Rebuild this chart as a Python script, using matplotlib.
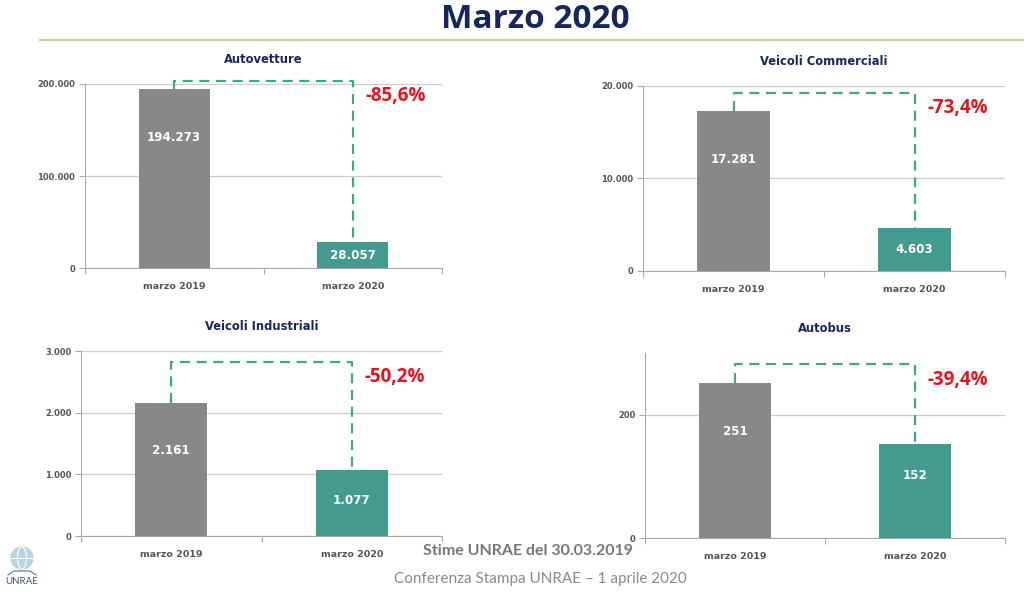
import matplotlib.pyplot as plt
from matplotlib.patches import Circle, Ellipse
from matplotlib.ticker import FuncFormatter

plt.rcParams['font.family'] = ['DejaVu Sans']

categories = ['marzo 2019', 'marzo 2020']
titles = ['Autovetture', 'Veicoli Commerciali', 'Veicoli Industriali', 'Autobus']
val_2019 = [194273, 17281, 2161, 251]
val_2020 = [28057, 4603, 1077, 152]
variazioni = ['-85,6%', '-73,4%', '-50,2%', '-39,4%']
y_max = [200000, 20000, 3000, 300]
y_step = [100000, 10000, 1000, 200]
bracket_top = [203500, 19250, 2825, 282]

GRAY = '#888888'
TEAL = '#429b8e'
DASH = '#3aa98a'
RED = '#e3141a'
NAVY = '#14275e'
TICK = '#555555'
OPEN = ['Open Sans', 'DejaVu Sans']
LATO = ['Lato', 'DejaVu Sans']

def fmt_it(v, pos=None):
    return f'{int(v):,}'.replace(',', '.')

fig = plt.figure(figsize=(10.24, 5.95), dpi=100)
W, H = 1024, 595
boxes = [(85, 84, 442, 268), (643, 86, 1005, 271), (81, 351, 442, 536), (645, 353, 1005, 538)]

for i, (x0, y0, x1, y1) in enumerate(boxes):
    ax = fig.add_axes([x0 / W, 1 - y1 / H, (x1 - x0) / W, (y1 - y0) / H])
    xs = [0, 1]
    vals = [val_2019[i], val_2020[i]]
    ax.bar(xs, vals, width=0.4, color=[GRAY, TEAL], zorder=3)
    ax.set_xlim(-0.5, 1.5)
    ax.set_ylim(0, y_max[i])
    ticks = list(range(0, y_max[i] + 1, y_step[i]))
    ax.set_yticks(ticks)
    ax.yaxis.set_major_formatter(FuncFormatter(fmt_it))
    ax.set_xticks([-0.5, 0.5, 1.5])
    ax.set_xticklabels([])
    ax.set_xticks(xs, minor=True)
    ax.set_xticklabels(categories, minor=True)
    ax.tick_params(axis='x', which='major', length=4, color='#aaaaaa', direction='out')
    ax.tick_params(axis='x', which='minor', length=0, pad=10, labelsize=6.8, labelcolor=TICK)
    ax.tick_params(axis='y', length=4, color='#aaaaaa', labelsize=6, labelcolor=TICK, pad=3)
    for lab in ax.get_xticklabels(minor=True) + ax.get_yticklabels():
        lab.set_fontweight('bold')
    ax.grid(axis='y', color='#cccccc', lw=0.9, zorder=0)
    for s in ['top', 'right']:
        ax.spines[s].set_visible(False)
    ax.spines['left'].set_color('#aaaaaa')
    ax.spines['bottom'].set_color('#aaaaaa')
    ax.set_title(titles[i], fontsize=8.3, fontweight='bold', color=NAVY, pad=15)

    # bracket
    ax.plot([0, 0, 1, 1], [vals[0], bracket_top[i], bracket_top[i], vals[1]],
            ls=(0, (4.5, 3)), color=DASH, lw=1.6, clip_on=False, zorder=4)
    ax.text(1.07, bracket_top[i] - y_max[i] * 0.03, variazioni[i], color=RED,
            fontsize=13.5, fontweight='bold', ha='left', va='top', family=OPEN)

    # value labels
    px_per_unit = (y1 - y0) / y_max[i]
    for x, v, cap in zip(xs, vals, [48, 31]):
        off = min(v * px_per_unit / 2, cap)
        ax.annotate(fmt_it(v), (x, v), xytext=(0, -off), textcoords='offset pixels',
                    ha='center', va='center', color='white', fontsize=8.6,
                    fontweight='bold', zorder=5)

# header
fig.text(535 / W, 1 - 20 / H, 'Marzo 2020', ha='center', va='center',
         fontsize=24, fontweight='bold', color=NAVY, family=OPEN)
fig.add_artist(plt.Line2D([40 / W, 1], [1 - 40 / H, 1 - 40 / H], color='#c8d39c', lw=1.5))

# footer
fig.text(528 / W, 1 - 551 / H, 'Stime UNRAE del 30.03.2019', ha='center', va='center',
         fontsize=11.5, fontweight='bold', color='#777777', family=LATO)
fig.text(540 / W, 1 - 579 / H, 'Conferenza Stampa UNRAE \u2013 1 aprile 2020', ha='center',
         va='center', fontsize=11, color='#8a8a8a', family=LATO)

# logo
lax = fig.add_axes([0, 0, 60 / W, 60 / H])
lax.set_xlim(0, 60)
lax.set_ylim(0, 60)
lax.set_aspect('equal')
lax.axis('off')
lax.add_patch(Circle((22, 37), 11, color='#b9d3e3'))
lax.add_patch(Ellipse((22, 37), 9, 22, fill=False, ec='white', lw=0.8))
lax.plot([11, 33], [37, 37], color='white', lw=0.8)
lax.plot([8, 14, 30, 36], [20, 24, 24, 20], color='#5b6f9a', lw=0.8)
lax.text(22, 14, 'UNRAE', ha='center', va='center', fontsize=7, color='#3d4f82', family=LATO)

fig.savefig('out.png', dpi=100)
